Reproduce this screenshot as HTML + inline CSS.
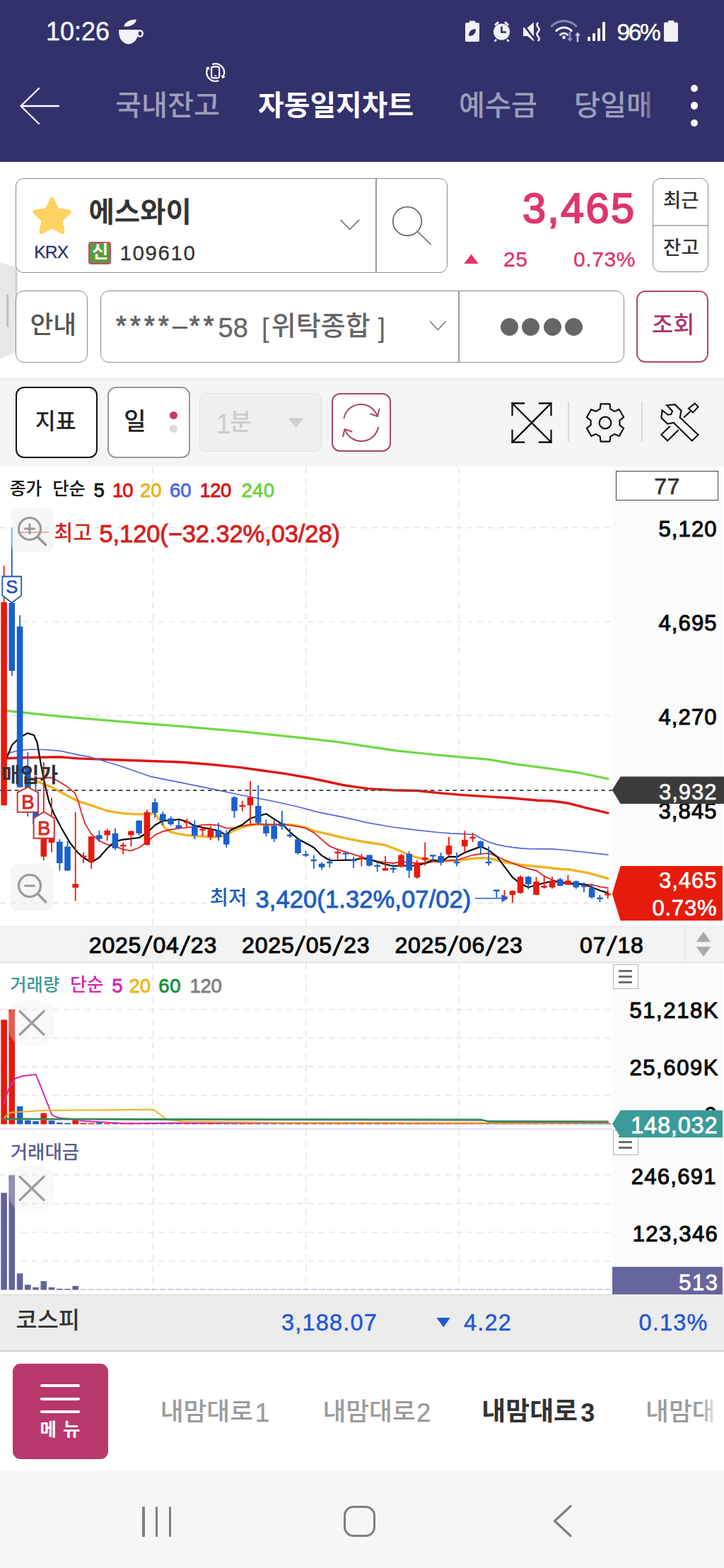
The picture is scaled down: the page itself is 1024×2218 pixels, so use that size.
<!DOCTYPE html>
<html lang="ko"><head><meta charset="utf-8"><title>자동일지차트</title><style>
*{margin:0;padding:0;box-sizing:border-box}
html,body{width:1024px;height:2218px;overflow:hidden;background:#fff}
body{font-family:"Liberation Sans",sans-serif;position:relative}
#app{position:relative;width:1024px;height:2218px;overflow:hidden;background:#fff}
.b,.s,.t{position:absolute}
.t{white-space:nowrap;display:block}
.k{font-family:"Liberation Sans","Noto Sans CJK KR",sans-serif;font-weight:500;margin-top:-.055em}
#ko{position:absolute;left:0;top:0;pointer-events:none}
</style></head><body><div id="app">
<div class="b" style="left:0px;top:0px;width:1024px;height:229px;background:#32316b;"></div>
<span class="t" style="left:65px;top:26.5px;font-size:36px;line-height:36px;color:#f4f4fa;-webkit-text-stroke:0.5px #f4f4fa;">10:26</span>
<svg class="s" style="left:55px;top:20px" width="160" height="50" viewBox="0 0 1024 320"><g fill="#f2f2f8"><path d="M724 140H900V160A88 112 0 0 1 812 272A88 112 0 0 1 724 160z"/><path d="M770 112C775 70 830 45 882 48C880 85 835 118 770 112z"/></g><ellipse cx="915" cy="175" rx="24" ry="27" fill="none" stroke="#f2f2f8" stroke-width="16"/></svg>
<svg class="s" style="left:654px;top:26px" width="310" height="36" viewBox="0 0 310 36">
<g fill="#f0f0f6">
<path d="M6 6h4V3.5h8V6h4a2 2 0 0 1 2 2v23a2 2 0 0 1-2 2H6a2 2 0 0 1-2-2V8a2 2 0 0 1 2-2z"/>
<path fill="#32316b" d="M9 25c0-6 3-10 10-10 0 6-3 10-10 10zM8.5 27.5l5-6" />
<circle cx="55.5" cy="19" r="11.5"/><circle cx="55.5" cy="19" r="8.3" fill="#f0f0f6"/>
<path d="M45 8.5l5-4.5 2 2.2-5 4.5zM66 8.500l-5-4.500-2 2.200 5 4.500zM47 29l2 1.800-2.500 2.800-2-1.800zM64 29l-2 1.800 2.500 2.800 2-1.800z"/>
<path fill="none" stroke="#32316b" stroke-width="2.6" stroke-linecap="round" d="M55.5 12.500v7h5.500"/>
<path d="M86 13h6l9-7.500v27L92 25h-6z"/><path stroke="#32316b" stroke-width="2.800" d="M85 7l19 25"/>
<path fill="none" stroke="#f0f0f6" stroke-width="2.600" d="M107 6q-3 3.200 0 6.500t0 6.500 0 6.500 0 6.500"/>
<rect x="177" y="26" width="4" height="6" rx="1"/><rect x="184" y="21" width="4" height="11" rx="1"/><rect x="191" y="14" width="4" height="18" rx="1"/><rect x="198" y="5" width="4" height="27" rx="1"/>
<path d="M287 5.500h4V3h8v2.500h4a2 2 0 0 1 2 2v23.500a2 2 0 0 1-2 2h-16a2 2 0 0 1-2-2V7.500a2 2 0 0 1 2-2z"/>
</g>
<g fill="none" stroke-linecap="round">
<path stroke="#8586ae" stroke-width="3.200" d="M126.400 10.800A24.400 24.400 0 0 1 160.800 10.800"/>
<path stroke="#f0f0f6" stroke-width="3.200" d="M133 17.400A15 15 0 0 1 154.200 17.400M138.600 23.100A7 7 0 0 1 148.600 23.100"/>
</g>
<circle cx="143.600" cy="27" r="2.400" fill="#f0f0f6"/>
<path fill="#8e8fb6" d="M150.800 19h2.600v9h2.600l-3.900 5.200-3.900-5.200h2.600z"/>
<path fill="#c9c9de" d="M161.700 33.500h2.600v-9h2.600l-3.900-5.200-3.900 5.200h2.600z"/>
</svg>
<span class="t" style="top:28.5px;font-size:33.5px;line-height:34px;color:#fff;left:872.5px;letter-spacing:-2.4px;-webkit-text-stroke:0.5px #fff;">96%</span>
<svg class="s" style="left:24px;top:118px" width="66" height="64" viewBox="0 0 66 64"><path fill="none" stroke="#fff" stroke-width="2.300" stroke-linecap="round" stroke-linejoin="round" d="M59 32H5.500M31 7L5.500 32 31 57"/></svg>
<svg class="s" style="left:289px;top:86px" width="32" height="34" viewBox="0 0 32 34"><g fill="none" stroke="#fff" stroke-width="2.200"><rect x="10.100" y="8.300" width="11.100" height="16.100" rx="2.600"/><path d="M11.100 5.100A12.300 12.300 0 0 1 26.850 21.700M20.300 27.900A12.300 12.300 0 0 1 4.550 11.300"/></g><path fill="#fff" d="M25.400 25.200L30 22.600 23.800 20.200zM6 7.800L1.500 10.200 7.600 12.900z"/><rect x="13.800" y="20.600" width="3.600" height="1.300" fill="#fff"/></svg>
<span class="t k" style="left:163px;top:133px;font-size:40.2px;line-height:37px;color:#9d9ebd;">국내잔고</span>
<span class="t k" style="left:365px;top:133px;font-size:39.9px;line-height:37px;color:#fff;font-weight:700;">자동일지차트</span>
<span class="t k" style="left:649px;top:133px;font-size:40.2px;line-height:37px;color:#9d9ebd;">예수금</span>
<span class="t k" style="left:812px;top:133px;font-size:40.2px;line-height:37px;color:#9d9ebd;">당일매</span>
<div class="b" style="left:976.8px;top:119.8px;width:10.4px;height:10.4px;background:#fff;border-radius:6px;"></div>
<div class="b" style="left:976.8px;top:144.3px;width:10.4px;height:10.4px;background:#fff;border-radius:6px;"></div>
<div class="b" style="left:976.8px;top:168.8px;width:10.4px;height:10.4px;background:#fff;border-radius:6px;"></div>
<svg class="s" style="left:0px;top:366px" width="26" height="146" viewBox="0 0 26 146"><path fill="#e8e8e8" d="M0 5.500L22.700 11.600H24.500V131L0 141.500z"/><path fill="#d2d2d2" d="M21.500 11.300L24.500 11.600V131L21.500 132.300z"/><rect x="9.300" y="50.600" width="2.900" height="46.200" rx="1" fill="#bdbdbd"/></svg>
<div class="b" style="left:22px;top:251.5px;width:611px;height:134.5px;background:#fff;border:1.9px solid #8a8a8a;border-radius:11px;"></div>
<div class="b" style="left:531px;top:252px;width:1.6px;height:133.5px;background:#9a9a9a;"></div>
<svg class="s" style="left:43.5px;top:275px" width="60" height="60" viewBox="0 0 60 60"><polygon points="29.5,7 36.8,22.4 53.8,24.6 41.4,36.4 44.5,53.1 29.5,45 14.5,53.1 17.6,36.4 5.2,24.6 22.2,22.4" fill="#ffd262" stroke="#ffd262" stroke-width="6" stroke-linejoin="round"/></svg>
<span class="t k" style="left:125.5px;top:284px;font-size:39.5px;line-height:36.7px;color:#333;font-weight:700;">에스와이</span>
<span class="t" style="top:343.8px;font-size:24.6px;line-height:25px;color:#2c2d70;left:48.3px;letter-spacing:-0.9px;-webkit-text-stroke:0.3px #2c2d70;">KRX</span>
<div class="b" style="left:124.5px;top:341.5px;width:32.5px;height:32.5px;background:#5b9b3c;border:2px solid #c8496d;border-radius:4px;"></div>
<span class="t k" style="left:130px;top:346.5px;font-size:25.3px;line-height:23px;color:#fff;font-weight:700;">신</span>
<span class="t" style="top:342.5px;font-size:29.5px;line-height:30px;color:#333;left:169.5px;letter-spacing:1.6px;-webkit-text-stroke:0.3px #333;">109610</span>
<svg class="s" style="left:478px;top:306px" width="34" height="24" viewBox="0 0 34 24"><path fill="none" stroke="#808080" stroke-width="1.800" stroke-linecap="round" stroke-linejoin="round" d="M4 5.500l12.800 12.800L29.600 5.500"/></svg>
<svg class="s" style="left:550px;top:288px" width="66" height="64" viewBox="0 0 66 64"><g fill="none" stroke="#686868" stroke-width="1.700" stroke-linecap="round"><circle cx="26" cy="25" r="20.300"/><path d="M41.500 40.500L59 57.500"/></g></svg>
<span class="t" style="top:264.5px;font-size:59.5px;line-height:60px;color:#e0346f;right:127px;letter-spacing:2.3px;margin-right:-2.3px;-webkit-text-stroke:1.9px #e0346f;">3,465</span>
<svg class="s" style="left:655px;top:358px" width="24" height="17" viewBox="0 0 24 17"><path fill="#e0346f" d="M11.500 1.500L21.600 15H1.400z"/></svg>
<span class="t" style="top:351.5px;font-size:30px;line-height:30px;color:#e0346f;left:712px;letter-spacing:0.5px;-webkit-text-stroke:0.4px #e0346f;">25</span>
<span class="t" style="top:351.5px;font-size:30px;line-height:30px;color:#e0346f;right:125.5px;letter-spacing:0.6px;margin-right:-0.6px;-webkit-text-stroke:0.4px #e0346f;">0.73%</span>
<div class="b" style="left:923px;top:251.5px;width:78.5px;height:133px;background:#fff;border:1.9px solid #8a8a8a;border-radius:11px;"></div>
<div class="b" style="left:924px;top:318.3px;width:76.5px;height:1.4px;background:#b5b5b5;"></div>
<span class="t k" style="left:938px;top:272.5px;font-size:27.5px;line-height:25.2px;color:#333;">최근</span>
<span class="t k" style="left:938px;top:341px;font-size:27.6px;line-height:24.7px;color:#333;">잔고</span>
<div class="b" style="left:22px;top:410.5px;width:102px;height:102px;background:#fff;border:1.9px solid #8a8a8a;border-radius:12px;"></div>
<span class="t k" style="left:42.5px;top:446.4px;font-size:35.7px;line-height:32.6px;color:#555;">안내</span>
<div class="b" style="left:141.5px;top:410.5px;width:741px;height:102px;background:#fff;border:1.9px solid #8a8a8a;border-radius:12px;"></div>
<div class="b" style="left:648px;top:411px;width:1.6px;height:101px;background:#9a9a9a;"></div>
<span class="t" style="top:442px;font-size:38px;line-height:38px;color:#666;left:164px;letter-spacing:5.2px;-webkit-text-stroke:1.1px #666;">****</span>
<div class="b" style="left:244px;top:462.3px;width:20.5px;height:2.7px;background:#666;"></div>
<span class="t" style="top:442px;font-size:38px;line-height:38px;color:#666;left:267.8px;letter-spacing:5.2px;-webkit-text-stroke:1.1px #666;">**</span>
<span class="t" style="top:444.5px;font-size:38px;line-height:38px;color:#666;left:308.5px;-webkit-text-stroke:0.4px #666;">58</span>
<span class="t" style="top:444.5px;font-size:38px;line-height:38px;color:#666;left:370px;">[</span>
<span class="t k" style="left:383.8px;top:446px;font-size:38px;line-height:35px;color:#666;">위탁종합</span>
<span class="t" style="top:444.5px;font-size:38px;line-height:38px;color:#666;left:534.5px;">]</span>
<svg class="s" style="left:604px;top:450px" width="32" height="22" viewBox="0 0 32 22"><path fill="none" stroke="#808080" stroke-width="1.800" stroke-linecap="round" stroke-linejoin="round" d="M4.500 5l10.700 11.500L26 5"/></svg>
<div class="b" style="left:708.2px;top:450.2px;width:24.8px;height:24.8px;background:#666;border-radius:13px;"></div>
<div class="b" style="left:738.2px;top:450.2px;width:24.8px;height:24.8px;background:#666;border-radius:13px;"></div>
<div class="b" style="left:769px;top:450.2px;width:24.8px;height:24.8px;background:#666;border-radius:13px;"></div>
<div class="b" style="left:799.3px;top:450.2px;width:24.8px;height:24.8px;background:#666;border-radius:13px;"></div>
<div class="b" style="left:900px;top:410.5px;width:102px;height:102px;background:#fff;border:2px solid #b4456e;border-radius:13px;"></div>
<span class="t k" style="left:922px;top:447px;font-size:32.8px;line-height:30px;color:#b03468;">조회</span>
<div class="b" style="left:0px;top:534.5px;width:1024px;height:125.5px;background:#f5f5f5;"></div>
<div class="b" style="left:0px;top:534.5px;width:1024px;height:1.5px;background:#e2e2e2;"></div>
<div class="b" style="left:22px;top:546.5px;width:116px;height:101.5px;background:#fff;border:2.2px solid #111;border-radius:12px;"></div>
<span class="t k" style="left:49.8px;top:584px;font-size:31.5px;line-height:29px;color:#222;">지표</span>
<div class="b" style="left:152px;top:546.5px;width:116.5px;height:101.5px;background:#fff;border:2.2px solid #999;border-radius:12px;"></div>
<span class="t k" style="left:175.3px;top:583px;font-size:34.1px;line-height:31px;color:#222;">일</span>
<div class="b" style="left:240.4px;top:582.1px;width:10.6px;height:10.6px;background:#c03a6e;border-radius:6px;"></div>
<div class="b" style="left:240.4px;top:601px;width:10.6px;height:10.6px;background:#dcdcdc;border-radius:6px;"></div>
<div class="b" style="left:281.5px;top:556px;width:173px;height:83px;background:#efefef;border:1.5px solid #e2e2e2;border-radius:9px;"></div>
<span class="t" style="top:581px;font-size:38px;line-height:38px;color:#cbcbcb;left:305.5px;">1</span>
<span class="t k" style="left:325px;top:584px;font-size:33.4px;line-height:29px;color:#cbcbcb;">분</span>
<svg class="s" style="left:405px;top:589px" width="28" height="18" viewBox="0 0 28 18"><path fill="#cfcfcf" d="M2.800 2.400h21.600L13.600 15.700z"/></svg>
<div class="b" style="left:468.5px;top:556px;width:84px;height:83px;background:#fff;border:2.2px solid #a8456c;border-radius:12px;"></div>
<svg class="s" style="left:478px;top:566px" width="66" height="64" viewBox="0 0 66 64"><g fill="none" stroke="#a8456c" stroke-width="2" stroke-linecap="round" stroke-linejoin="round">
<path d="M8.500 25.500A24.500 24.500 0 0 1 55.500 22"/><path d="M46 19.500l10 3.500 2.500-10.500"/>
<path d="M57 38.500A24.500 24.500 0 0 1 10 42"/><path d="M19.500 44.500l-10-3.500-2.500 10.500"/></g></svg>
<svg class="s" style="left:720px;top:566px" width="64" height="64" viewBox="0 0 64 64"><g fill="none" stroke="#111" stroke-width="2.300" stroke-linecap="square"><path d="M4.500 4.500L59.500 59.500M59.500 4.500L4.500 59.500"/><path d="M4.500 21V4.500H21M43 4.500h16.500V21M59.500 43v16.500H43M21 59.500H4.500V43"/></g></svg>
<div class="b" style="left:803px;top:568px;width:1.6px;height:56.5px;background:#d8d8d8;"></div>
<div class="b" style="left:907.3px;top:568px;width:1.6px;height:56.5px;background:#d8d8d8;"></div>
<svg class="s" style="left:824px;top:565.5px" width="64" height="64" viewBox="0 0 64 64"><g fill="none" stroke="#111" stroke-width="2.200" stroke-linejoin="round"><path d="M24.6 12.8L25.6 5.4L38.4 5.4L39.4 12.8A20.6 20.6 0 0 1 44.9 16L51.8 13.2L58.2 24.2L52.3 28.8A20.6 20.6 0 0 1 52.3 35.2L58.2 39.8L51.8 50.8L44.9 48A20.6 20.6 0 0 1 39.4 51.2L38.4 58.6L25.6 58.6L24.6 51.2A20.6 20.6 0 0 1 19.1 48L12.2 50.8L5.8 39.8L11.7 35.2A20.6 20.6 0 0 1 11.7 28.8L5.8 24.2L12.2 13.2L19.1 16A20.6 20.6 0 0 1 24.6 12.8z"/><circle cx="32" cy="32" r="8.300"/></g></svg>
<svg class="s" style="left:930px;top:566px" width="64" height="64" viewBox="0 0 64 64"><g fill="none" stroke="#111" stroke-width="2.100" stroke-linejoin="miter" stroke-linecap="butt">
<path d="M13.100 7.300L24.700 6.200L33.600 15.200L31.600 24.400L57.500 49L48.700 57.600L22.700 31.900L14.100 33.600L5.300 25.100L6.600 14.200L14.500 20.700L19.300 20L21 15.500z"/>
<path d="M17.900 36.700L5.300 48.700L14.100 57.600L29.500 42.200"/>
<path d="M37.400 24.400L46.300 15.900"/>
<path d="M43.900 11.800L52.800 4.600L57.500 9.400L50 17.600z"/></g></svg>
<div class="b" style="left:866px;top:660px;width:156px;height:650px;background:#fbfbfb;"></div>
<svg class="s" style="left:0px;top:660px" width="870" height="650" viewBox="0 0 870 650" id="chart"><path d="M0 86.5H866" stroke="#e2e2e2" stroke-width="1.300" stroke-dasharray="8 7" fill="none"/><path d="M0 219.3H866" stroke="#e2e2e2" stroke-width="1.300" stroke-dasharray="8 7" fill="none"/><path d="M0 352H866" stroke="#e2e2e2" stroke-width="1.300" stroke-dasharray="8 7" fill="none"/><path d="M0 484.8H866" stroke="#e2e2e2" stroke-width="1.300" stroke-dasharray="8 7" fill="none"/><path d="M0 617.5H866" stroke="#e2e2e2" stroke-width="1.300" stroke-dasharray="8 7" fill="none"/><path d="M216.3 0V650" stroke="#e2e2e2" stroke-width="1.300" stroke-dasharray="9 7" fill="none"/><path d="M432.6 0V650" stroke="#e2e2e2" stroke-width="1.300" stroke-dasharray="9 7" fill="none"/><path d="M649 0V650" stroke="#e2e2e2" stroke-width="1.300" stroke-dasharray="9 7" fill="none"/><polyline points="4.2,344.9 85,353.4 170,360.6 255,367.4 340,374.6 435,384.6 477.5,389.5 520,395.8 562.4,402.2 605,406.5 647.4,410.7 690,414.1 732.4,421.3 775,426.9 817.3,432.8 860,441.7" fill="none" stroke="#6fd845" stroke-width="3.2" stroke-linejoin="round" stroke-linecap="round"/><polyline points="8.5,412.8 40,411.5 85,410.7 110,412.9 170,415 255,418 297,421.3 340,425.6 371.4,430 403,434.4 438.2,440.5 460,445 485.2,450.5 520.3,455.6 555.5,457.8 590.6,458.5 620,461.6 655.2,464.6 690.3,466.9 725.5,469 760.6,472.2 780,473 802.9,476 832.7,483.6 860,490.1" fill="none" stroke="#e01414" stroke-width="3.4" stroke-linejoin="round" stroke-linecap="round"/><polyline points="10.6,405.6 25,402 42.5,400 64,400.5 85,402.2 110,407.6 127.4,410.7 170,423.5 212.4,438.3 255,446.8 297,455.3 340,464.5 382,472.5 420.6,481 450,488.9 485.2,495.9 520.3,503.8 555.5,510 590.6,514.4 620,517.5 637.6,518.8 655.2,519.6 671,520.5 680,525.8 691.2,531 702.5,534.6 713.7,536.9 725,538.6 736.2,539.9 747.4,540.7 780,540.9 800,542.5 860,549.2" fill="none" stroke="#5566d8" stroke-width="1.7" stroke-linejoin="round" stroke-linecap="round"/><polyline points="40,440 54.3,446.2 72.7,453.3 90.3,463 110,473.2 129,479.2 151.7,487 174,490.6 196.7,491.9 208,491.5 219,490.6 226,500.3 233,510.9 241.6,517 253,519.6 264,521.4 275.4,522.6 286.6,523 297.8,524 309,523.7 320.3,521.4 331.6,514.4 342.8,510 354,507.3 365.3,506.5 376.5,506.5 387.8,506.5 399,506.1 410.2,506.5 421.5,508.2 432.7,510.9 444,515.3 455.2,517.9 466.4,520.5 489,525.8 511.4,530.2 533.9,533.7 545.1,535.5 556.4,539.9 567.6,544.3 578.8,549.5 590.1,553 601.3,555.7 612.6,556.6 623.8,557.4 635,557.4 646.3,557 657.5,555.7 668.8,554.4 680,553.6 691.2,554 702.5,556.6 713.7,559.7 725,561.5 736.2,563.2 747.4,564.5 758.7,565.7 769.9,566.8 781.2,568 792.4,569.2 802.9,569.7 832.7,575 860,582.6" fill="none" stroke="#eeb420" stroke-width="3.4" stroke-linejoin="round" stroke-linecap="round"/><polyline points="39,441 50,441.5 62,440.5 72.7,440 81.5,444.5 94.7,452.4 106.1,462 110,471.3 115.3,489.8 120.5,505.6 129,519.6 140.4,529.3 151.7,534.6 163,537.2 174,541.6 185.4,543.4 196.7,539 208,531 219,521.4 230.4,516 241.6,513.5 253,511.7 264,510.9 275.4,509 286.6,506.8 297.8,506.5 309,507.3 320.3,511.7 331.6,511.2 342.8,508.2 354,506.5 365.3,505.2 376.5,506.5 387.8,506.5 399,506.1 410.2,507.3 421.5,509.1 432.7,511.7 444,517.9 455.2,527.6 466.4,537.2 477.7,541.6 489,545.1 500.2,548.7 511.4,552.2 522.6,555.7 533.9,558.3 545.1,560 556.4,561 567.6,559.2 578.8,560 590.1,561 601.3,561 612.6,559.2 623.8,558.3 635,557.4 646.3,556.6 657.5,553 668.8,549.5 680,547.8 691.2,546.9 702.5,551.3 713.7,556.6 725,561 736.2,565.4 747.4,568.9 758.7,571.5 769.9,579.4 781.2,584.7 792.4,588.2 802.9,590.8 826,590.8 837.4,591.7 848.6,594.4 860,596.1" fill="none" stroke="#e02424" stroke-width="1.8" stroke-linejoin="round" stroke-linecap="round"/><polyline points="8,415.8 16.9,394 28,383 39.2,377 48,380 52.5,390 57.8,420.8 63.9,451.5 69.2,473.5 76.2,491 86.8,511.3 99.1,532.4 110,546 118,553 129,559.7 140.4,553 151.7,540 163,530 174,527.6 185.4,526.3 196.7,525 208,518 219,507.3 230.4,501 241.6,500.3 253,499 264,502 275.4,508.2 286.6,510.5 297.8,512.6 309,515.3 320.3,521.4 325.7,514.4 331.6,511.7 342.8,506.5 354,497.7 365.3,494.2 376.5,491.2 387.8,498.6 399,505.6 410.2,517 421.5,526.7 432.7,532.8 444,539 455.2,550.4 466.4,557 477.7,557 489,556.6 500.2,556.6 511.4,554 522.6,555.7 533.9,559.2 545.1,562.7 556.4,565 567.6,564.5 578.8,564.5 590.1,564.5 601.3,561 612.6,556.6 623.8,559 635,551.6 646.3,552.2 657.5,546 668.8,541.6 680,537.6 691.2,542.5 702.5,551.3 713.7,566.2 725,581.2 736.2,590 747.4,595.2 758.7,591.7 769.9,589 781.2,586.4 792.4,588.2 803.6,589 814.9,590 826.1,590.8 837.4,595.2 848.6,599.6 860,603.1" fill="none" stroke="#0a0a0a" stroke-width="2.2" stroke-linejoin="round" stroke-linecap="round"/><path d="M5.6 140.5V479.3" stroke="#e8190c" stroke-width="1.800"/><rect x="1.3" y="191.9" width="8.6" height="287.4" fill="#e8190c"/><path d="M16.8 86.5V296" stroke="#1a5fd0" stroke-width="1.800"/><rect x="12.5" y="193" width="8.6" height="96" fill="#1a5fd0"/><path d="M28.1 210.3V453.7" stroke="#1a5fd0" stroke-width="1.800"/><rect x="23.8" y="226.2" width="8.6" height="227.5" fill="#1a5fd0"/><path d="M39.3 404V495" stroke="#1a5fd0" stroke-width="1.800"/><rect x="35" y="425" width="8.6" height="51" fill="#1a5fd0"/><path d="M50.5 440V510" stroke="#1a5fd0" stroke-width="1.800"/><rect x="46.2" y="460" width="8.6" height="46" fill="#1a5fd0"/><path d="M61.8 418V557" stroke="#e8190c" stroke-width="1.800"/><rect x="57.5" y="520" width="8.6" height="31.7" fill="#e8190c"/><path d="M73 468.2V545.6" stroke="#e8190c" stroke-width="1.800"/><rect x="68.7" y="525" width="8.6" height="7" fill="#e8190c"/><path d="M84.3 527V571.5" stroke="#1a5fd0" stroke-width="1.800"/><rect x="80" y="530.6" width="8.6" height="30.4" fill="#1a5fd0"/><path d="M95.5 529.5V571.5" stroke="#1a5fd0" stroke-width="1.800"/><rect x="91.2" y="537.6" width="8.6" height="33.9" fill="#1a5fd0"/><path d="M106.7 488.8V614.6" stroke="#e8190c" stroke-width="1.800"/><rect x="102.4" y="590.3" width="8.6" height="5.4" fill="#e8190c"/><path d="M118 546V561" stroke="#e8190c" stroke-width="1.800"/><rect x="113.7" y="550.4" width="8.6" height="2.4" fill="#e8190c"/><path d="M129.2 523.2V568.9" stroke="#e8190c" stroke-width="1.800"/><rect x="124.9" y="523.2" width="8.6" height="36.5" fill="#e8190c"/><path d="M140.4 514.9V531" stroke="#1a5fd0" stroke-width="1.800"/><rect x="136.1" y="521.4" width="8.6" height="5.3" fill="#1a5fd0"/><path d="M151.7 512.6V529.3" stroke="#e8190c" stroke-width="1.800"/><rect x="147.4" y="514.9" width="8.6" height="6.5" fill="#e8190c"/><path d="M162.9 511.7V542.5" stroke="#1a5fd0" stroke-width="1.800"/><rect x="158.6" y="518.8" width="8.6" height="21.1" fill="#1a5fd0"/><path d="M174.2 532V548.7" stroke="#e8190c" stroke-width="1.800"/><rect x="169.9" y="535.1" width="8.6" height="2.4" fill="#e8190c"/><path d="M185.4 514.9V537.6" stroke="#e8190c" stroke-width="1.800"/><rect x="181.1" y="515.6" width="8.6" height="5.8" fill="#e8190c"/><path d="M196.6 500.3V521.8" stroke="#1a5fd0" stroke-width="1.800"/><rect x="192.3" y="500.8" width="8.6" height="18" fill="#1a5fd0"/><path d="M207.9 485.4V536.3" stroke="#e8190c" stroke-width="1.800"/><rect x="203.6" y="488.9" width="8.6" height="46.2" fill="#e8190c"/><path d="M219.1 469.6V496.8" stroke="#1a5fd0" stroke-width="1.800"/><rect x="214.8" y="474.8" width="8.6" height="15" fill="#1a5fd0"/><path d="M230.3 488V507.3" stroke="#1a5fd0" stroke-width="1.800"/><rect x="226" y="491.5" width="8.6" height="8.8" fill="#1a5fd0"/><path d="M241.6 494.7V508.2" stroke="#1a5fd0" stroke-width="1.800"/><rect x="237.3" y="497.7" width="8.6" height="8.2" fill="#1a5fd0"/><path d="M252.8 500.3V512.3" stroke="#1a5fd0" stroke-width="1.800"/><rect x="248.5" y="507.3" width="8.6" height="3.9" fill="#1a5fd0"/><path d="M264.1 497.7V510" stroke="#e8190c" stroke-width="1.800"/><rect x="259.8" y="501.8" width="8.6" height="2.4" fill="#e8190c"/><path d="M275.3 500.3V527" stroke="#1a5fd0" stroke-width="1.800"/><rect x="271" y="508.6" width="8.6" height="13.2" fill="#1a5fd0"/><path d="M286.5 510.5V522.3" stroke="#e8190c" stroke-width="1.800"/><rect x="282.2" y="512.3" width="8.6" height="2.4" fill="#e8190c"/><path d="M297.8 509V528.4" stroke="#e8190c" stroke-width="1.800"/><rect x="293.5" y="513.5" width="8.6" height="10.5" fill="#e8190c"/><path d="M309 503.8V529.3" stroke="#1a5fd0" stroke-width="1.800"/><rect x="304.7" y="514.4" width="8.6" height="9.6" fill="#1a5fd0"/><path d="M320.2 514.4V539" stroke="#1a5fd0" stroke-width="1.800"/><rect x="315.9" y="519.6" width="8.6" height="15" fill="#1a5fd0"/><path d="M331.5 466V496.8" stroke="#1a5fd0" stroke-width="1.800"/><rect x="327.2" y="467.8" width="8.6" height="19.3" fill="#1a5fd0"/><path d="M342.7 473V487.7" stroke="#e8190c" stroke-width="1.800"/><rect x="338.4" y="478.8" width="8.6" height="2.4" fill="#e8190c"/><path d="M353.9 445V507.3" stroke="#e8190c" stroke-width="1.800"/><rect x="349.6" y="467.8" width="8.6" height="11.4" fill="#e8190c"/><path d="M365.2 451V506.5" stroke="#1a5fd0" stroke-width="1.800"/><rect x="360.9" y="480" width="8.6" height="23.8" fill="#1a5fd0"/><path d="M376.4 499.4V523.2" stroke="#1a5fd0" stroke-width="1.800"/><rect x="372.1" y="508.2" width="8.6" height="10.6" fill="#1a5fd0"/><path d="M387.7 500.3V531" stroke="#1a5fd0" stroke-width="1.800"/><rect x="383.4" y="508.2" width="8.6" height="18.5" fill="#1a5fd0"/><path d="M398.9 487V513.5" stroke="#1a5fd0" stroke-width="1.800"/><rect x="394.6" y="504.7" width="8.6" height="4.3" fill="#1a5fd0"/><path d="M410.1 511.7V525" stroke="#1a5fd0" stroke-width="1.800"/><rect x="405.8" y="520.6" width="8.6" height="2.4" fill="#1a5fd0"/><path d="M421.4 526.7V548.7" stroke="#1a5fd0" stroke-width="1.800"/><rect x="417.1" y="527.2" width="8.6" height="19.7" fill="#1a5fd0"/><path d="M432.6 543.4V552.2" stroke="#1a5fd0" stroke-width="1.800"/><rect x="428.3" y="548" width="8.6" height="2.4" fill="#1a5fd0"/><path d="M443.8 549.5V568.9" stroke="#1a5fd0" stroke-width="1.800"/><rect x="439.5" y="555.8" width="8.6" height="2.4" fill="#1a5fd0"/><path d="M455.1 559.2V570.6" stroke="#1a5fd0" stroke-width="1.800"/><rect x="450.8" y="561.8" width="8.6" height="5" fill="#1a5fd0"/><path d="M466.3 553V567.1" stroke="#1a5fd0" stroke-width="1.800"/><rect x="462" y="558.8" width="8.6" height="2.4" fill="#1a5fd0"/><path d="M477.6 540.7V555.7" stroke="#e8190c" stroke-width="1.800"/><rect x="473.3" y="544.8" width="8.6" height="2.4" fill="#e8190c"/><path d="M488.8 547V555.7" stroke="#1a5fd0" stroke-width="1.800"/><rect x="484.5" y="546.2" width="8.6" height="2.4" fill="#1a5fd0"/><path d="M500 552.2V568" stroke="#1a5fd0" stroke-width="1.800"/><rect x="495.7" y="555.8" width="8.6" height="2.4" fill="#1a5fd0"/><path d="M511.3 547.8V565.4" stroke="#e8190c" stroke-width="1.800"/><rect x="507" y="552.8" width="8.6" height="2.4" fill="#e8190c"/><path d="M522.5 549V565.8" stroke="#1a5fd0" stroke-width="1.800"/><rect x="518.2" y="549.5" width="8.6" height="15" fill="#1a5fd0"/><path d="M533.7 559.2V573.3" stroke="#1a5fd0" stroke-width="1.800"/><rect x="529.4" y="563.8" width="8.6" height="2.4" fill="#1a5fd0"/><path d="M545 551V571.5" stroke="#e8190c" stroke-width="1.800"/><rect x="540.7" y="568" width="8.6" height="3.5" fill="#e8190c"/><path d="M556.2 562.7V575" stroke="#1a5fd0" stroke-width="1.800"/><rect x="551.9" y="567.7" width="8.6" height="2.4" fill="#1a5fd0"/><path d="M567.5 547.8V567.2" stroke="#e8190c" stroke-width="1.800"/><rect x="563.2" y="549.5" width="8.6" height="16.7" fill="#e8190c"/><path d="M578.7 544.3V582" stroke="#1a5fd0" stroke-width="1.800"/><rect x="574.4" y="547.8" width="8.6" height="23.7" fill="#1a5fd0"/><path d="M589.9 556.6V583" stroke="#e8190c" stroke-width="1.800"/><rect x="585.6" y="561" width="8.6" height="20.2" fill="#e8190c"/><path d="M601.2 531.6V564.5" stroke="#e8190c" stroke-width="1.800"/><rect x="596.9" y="553" width="8.6" height="3.2" fill="#e8190c"/><path d="M612.4 549.6V558" stroke="#1a5fd0" stroke-width="1.800"/><rect x="608.1" y="549.2" width="8.6" height="2.4" fill="#1a5fd0"/><path d="M623.6 546V564" stroke="#1a5fd0" stroke-width="1.800"/><rect x="619.3" y="551" width="8.6" height="9.4" fill="#1a5fd0"/><path d="M634.9 524V551.3" stroke="#e8190c" stroke-width="1.800"/><rect x="630.6" y="536.3" width="8.6" height="12.4" fill="#e8190c"/><path d="M646.1 546V565.4" stroke="#1a5fd0" stroke-width="1.800"/><rect x="641.8" y="558.8" width="8.6" height="2.4" fill="#1a5fd0"/><path d="M657.3 515.3V545.1" stroke="#e8190c" stroke-width="1.800"/><rect x="653" y="528" width="8.6" height="9.2" fill="#e8190c"/><path d="M668.6 517.9V531" stroke="#e8190c" stroke-width="1.800"/><rect x="664.3" y="523.8" width="8.6" height="2.4" fill="#e8190c"/><path d="M679.8 529.3V549.5" stroke="#1a5fd0" stroke-width="1.800"/><rect x="675.5" y="530.2" width="8.6" height="7.4" fill="#1a5fd0"/><path d="M691.1 537.2V564.5" stroke="#1a5fd0" stroke-width="1.800"/><rect x="686.8" y="558.8" width="8.6" height="2.4" fill="#1a5fd0"/><path d="M702.3 598.8V611" stroke="#1a5fd0" stroke-width="1.800"/><rect x="698" y="598.4" width="8.6" height="2.4" fill="#1a5fd0"/><path d="M713.5 598.7V611" stroke="#e8190c" stroke-width="1.800"/><rect x="709.2" y="608.1" width="8.6" height="2.4" fill="#e8190c"/><path d="M724.8 599.5V617.2" stroke="#e8190c" stroke-width="1.800"/><rect x="720.5" y="600.2" width="8.6" height="5.6" fill="#e8190c"/><path d="M736 578.5V604" stroke="#e8190c" stroke-width="1.800"/><rect x="731.7" y="580.3" width="8.6" height="22.8" fill="#e8190c"/><path d="M747.2 579V597.9" stroke="#1a5fd0" stroke-width="1.800"/><rect x="742.9" y="580.3" width="8.6" height="10.5" fill="#1a5fd0"/><path d="M758.5 580.3V605.8" stroke="#e8190c" stroke-width="1.800"/><rect x="754.2" y="587" width="8.6" height="18.8" fill="#e8190c"/><path d="M769.7 579.4V597" stroke="#e8190c" stroke-width="1.800"/><rect x="765.4" y="593" width="8.6" height="2.6" fill="#e8190c"/><path d="M781 580.3V597" stroke="#e8190c" stroke-width="1.800"/><rect x="776.7" y="585.6" width="8.6" height="9.6" fill="#e8190c"/><path d="M792.2 582V593.5" stroke="#1a5fd0" stroke-width="1.800"/><rect x="787.9" y="583.8" width="8.6" height="9.3" fill="#1a5fd0"/><path d="M803.4 577.7V591.4" stroke="#e8190c" stroke-width="1.800"/><rect x="799.1" y="585.6" width="8.6" height="5.8" fill="#e8190c"/><path d="M814.7 585.6V597" stroke="#1a5fd0" stroke-width="1.800"/><rect x="810.4" y="586.4" width="8.6" height="8.8" fill="#1a5fd0"/><path d="M825.9 588.2V601.9" stroke="#1a5fd0" stroke-width="1.800"/><rect x="821.6" y="592.3" width="8.6" height="2.4" fill="#1a5fd0"/><path d="M837.1 590V611" stroke="#1a5fd0" stroke-width="1.800"/><rect x="832.8" y="596.1" width="8.6" height="13.2" fill="#1a5fd0"/><path d="M848.4 605.8V616" stroke="#1a5fd0" stroke-width="1.800"/><rect x="844.1" y="609.5" width="8.6" height="2.4" fill="#1a5fd0"/><path d="M859.6 597.9V611" stroke="#e8190c" stroke-width="1.800"/><rect x="855.3" y="604" width="8.6" height="2.5" fill="#e8190c"/><path d="M0 458H866" stroke="#505050" stroke-width="2" stroke-dasharray="5.500 5" fill="none"/><path d="M25 93H69" stroke="#e03030" stroke-width="1.500"/><path d="M672 610.7H711" stroke="#2a62c8" stroke-width="1.500"/><path d="M709.500 605L718.600 610.7L709.500 616.4z" fill="#2a5cc4"/><path d="M3.300 155.5H30.200V182.4L16.700 192.5L3.300 182.4z" fill="#fff" stroke="#2457b4" stroke-width="1.800" stroke-linejoin="miter"/><path d="M39.3 453.3L53.9 461V488.8H24.7V461z" fill="#fff" stroke="#d23232" stroke-width="2" stroke-linejoin="miter"/><path d="M62.2 488.3L76.8 497.3V525.8H47.6V497.3z" fill="#fff" stroke="#d23232" stroke-width="2" stroke-linejoin="miter"/></svg>
<span class="t" style="top:816.5px;font-size:25.5px;line-height:26px;color:#2050ae;left:-283.2px;width:600px;text-align:center;-webkit-text-stroke:0.6px #2050ae;">S</span>
<span class="t" style="top:1120.8px;font-size:27.5px;line-height:28px;color:#d42a2a;left:-260.7px;width:600px;text-align:center;-webkit-text-stroke:0.9px #d42a2a;">B</span>
<span class="t" style="top:1158px;font-size:27.5px;line-height:28px;color:#d42a2a;left:-237.8px;width:600px;text-align:center;-webkit-text-stroke:0.9px #d42a2a;">B</span>
<span class="t k" style="left:13.7px;top:681.5px;font-size:24.8px;line-height:23px;color:#111;">종가</span>
<span class="t k" style="left:74.2px;top:681.5px;font-size:25.3px;line-height:23px;color:#111;">단순</span>
<span class="t" style="top:680px;font-size:27.5px;line-height:28px;color:#111;left:132.5px;-webkit-text-stroke:0.8px #111;">5</span>
<span class="t" style="top:680px;font-size:27.5px;line-height:28px;color:#e01212;left:159px;letter-spacing:-1px;-webkit-text-stroke:0.8px #e01212;">10</span>
<span class="t" style="top:680px;font-size:27.5px;line-height:28px;color:#e9b21e;left:198px;-webkit-text-stroke:0.8px #e9b21e;">20</span>
<span class="t" style="top:680px;font-size:27.5px;line-height:28px;color:#4a6ae2;left:240px;-webkit-text-stroke:0.8px #4a6ae2;">60</span>
<span class="t" style="top:680px;font-size:27.5px;line-height:28px;color:#d41212;left:282.5px;letter-spacing:-0.5px;-webkit-text-stroke:0.8px #d41212;">120</span>
<span class="t" style="top:680px;font-size:27.5px;line-height:28px;color:#6cd242;left:341.5px;letter-spacing:0.3px;-webkit-text-stroke:0.8px #6cd242;">240</span>
<div class="b" style="left:15.5px;top:718.5px;width:60.5px;height:62.5px;background:rgba(238,238,238,0.5);border-radius:10px;"></div>
<svg class="s" style="left:12px;top:718px" width="60" height="60" viewBox="0 0 60 60"><g fill="none" stroke="#9a9a9a" stroke-linecap="round"><circle cx="30" cy="30" r="15.500" stroke-width="3.200"/><path d="M41.500 41.500L52.500 52.500" stroke-width="3.600"/><path d="M23.500 30H36.500M30 23.500V36.500" stroke-width="3"/></g></svg>
<div class="b" style="left:13.5px;top:1223px;width:62.5px;height:65px;background:rgba(238,238,238,0.5);border-radius:10px;"></div>
<svg class="s" style="left:12px;top:1223px" width="60" height="60" viewBox="0 0 60 60"><g fill="none" stroke="#9a9a9a" stroke-linecap="round"><circle cx="30" cy="30" r="15.500" stroke-width="3.200"/><path d="M41.500 41.500L52.500 52.500" stroke-width="3.600"/><path d="M23.500 30H36.500" stroke-width="3"/></g></svg>
<span class="t k" style="left:76.3px;top:741.8px;font-size:29.3px;line-height:27.2px;color:#d61f1f;">최고</span>
<span class="t" style="top:738.3px;font-size:34.5px;line-height:35px;color:#d61f1f;left:140.5px;letter-spacing:-0.1px;-webkit-text-stroke:0.9px #d61f1f;">5,120(−32.32%,03/28)</span>
<span class="t k" style="left:296.8px;top:1258.9px;font-size:28.5px;line-height:26.5px;color:#1d5ec2;">최저</span>
<span class="t" style="top:1254.5px;font-size:34.5px;line-height:35px;color:#1d5ec2;left:361.5px;letter-spacing:0.1px;-webkit-text-stroke:0.9px #1d5ec2;">3,420(1.32%,07/02)</span>
<span class="t k" style="left:2px;top:1086px;font-size:29.1px;line-height:27px;color:#333;font-weight:700;">매입가</span>
<div class="b" style="left:871px;top:665.5px;width:145px;height:42.5px;background:#fff;border:1.6px solid #444;"></div>
<span class="t" style="top:672.3px;font-size:32px;line-height:32px;color:#333;left:643.5px;width:600px;text-align:center;letter-spacing:0.5px;-webkit-text-stroke:0.7px #333;">77</span>
<span class="t" style="top:733.2px;font-size:31px;line-height:31px;color:#0c0c0c;right:10.5px;letter-spacing:1.1px;margin-right:-1.1px;-webkit-text-stroke:1.1px #0c0c0c;">5,120</span>
<span class="t" style="top:866px;font-size:31px;line-height:31px;color:#0c0c0c;right:10.5px;letter-spacing:1.1px;margin-right:-1.1px;-webkit-text-stroke:1.1px #0c0c0c;">4,695</span>
<span class="t" style="top:998.7px;font-size:31px;line-height:31px;color:#0c0c0c;right:10.5px;letter-spacing:1.1px;margin-right:-1.1px;-webkit-text-stroke:1.1px #0c0c0c;">4,270</span>
<span class="t" style="top:1131.5px;font-size:31px;line-height:31px;color:#0c0c0c;right:10.5px;letter-spacing:1.1px;margin-right:-1.1px;-webkit-text-stroke:1.1px #0c0c0c;">3,845</span>
<svg class="s" style="left:860px;top:1095px" width="166" height="46" viewBox="0 0 166 46"><path d="M5.800 22.600L17.600 3.400H164V42H17.600z" fill="#3b3b3b"/></svg>
<span class="t" style="top:1104.5px;font-size:31px;line-height:31px;color:#fff;right:10.5px;letter-spacing:1px;margin-right:-1px;-webkit-text-stroke:0.7px #fff;">3,932</span>
<svg class="s" style="left:860px;top:1222px" width="166" height="84" viewBox="0 0 166 84"><path d="M5.800 42.500L17.600 3H162V80.200H17.600z" fill="#e71b0c"/></svg>
<span class="t" style="top:1229.5px;font-size:31px;line-height:31px;color:#fff;right:10.5px;letter-spacing:1px;margin-right:-1px;-webkit-text-stroke:0.7px #fff;">3,465</span>
<span class="t" style="top:1269px;font-size:31px;line-height:31px;color:#fff;right:10.5px;letter-spacing:0.8px;margin-right:-0.8px;-webkit-text-stroke:0.7px #fff;">0.73%</span>
<div class="b" style="left:0px;top:1310px;width:1024px;height:52.5px;background:#f3f3f3;"></div>
<div class="b" style="left:0px;top:1310px;width:1024px;height:1.2px;background:#e3e3e3;"></div>
<div class="b" style="left:0px;top:1361.3px;width:1024px;height:1.2px;background:#dedede;"></div>
<span class="t" style="top:1321.3px;font-size:32px;line-height:32px;color:#0a0a0a;left:-165.3px;width:600px;text-align:center;-webkit-text-stroke:1.1px #0a0a0a;">2</span>
<span class="t" style="top:1321.3px;font-size:32px;line-height:32px;color:#0a0a0a;left:-146.7px;width:600px;text-align:center;-webkit-text-stroke:1.1px #0a0a0a;">0</span>
<span class="t" style="top:1321.3px;font-size:32px;line-height:32px;color:#0a0a0a;left:-128.1px;width:600px;text-align:center;-webkit-text-stroke:1.1px #0a0a0a;">2</span>
<span class="t" style="top:1321.3px;font-size:32px;line-height:32px;color:#0a0a0a;left:-109.5px;width:600px;text-align:center;-webkit-text-stroke:1.1px #0a0a0a;">5</span>
<span class="t" style="top:1321.3px;font-size:32px;line-height:32px;color:#0a0a0a;left:-74.7px;width:600px;text-align:center;-webkit-text-stroke:1.1px #0a0a0a;">0</span>
<span class="t" style="top:1321.3px;font-size:32px;line-height:32px;color:#0a0a0a;left:-56.1px;width:600px;text-align:center;-webkit-text-stroke:1.1px #0a0a0a;">4</span>
<span class="t" style="top:1321.3px;font-size:32px;line-height:32px;color:#0a0a0a;left:-21.3px;width:600px;text-align:center;-webkit-text-stroke:1.1px #0a0a0a;">2</span>
<span class="t" style="top:1321.3px;font-size:32px;line-height:32px;color:#0a0a0a;left:-2.7px;width:600px;text-align:center;-webkit-text-stroke:1.1px #0a0a0a;">3</span>
<span class="t" style="top:1321.3px;font-size:32px;line-height:32px;color:#0a0a0a;left:51px;width:600px;text-align:center;-webkit-text-stroke:1.1px #0a0a0a;">2</span>
<span class="t" style="top:1321.3px;font-size:32px;line-height:32px;color:#0a0a0a;left:69.6px;width:600px;text-align:center;-webkit-text-stroke:1.1px #0a0a0a;">0</span>
<span class="t" style="top:1321.3px;font-size:32px;line-height:32px;color:#0a0a0a;left:88.2px;width:600px;text-align:center;-webkit-text-stroke:1.1px #0a0a0a;">2</span>
<span class="t" style="top:1321.3px;font-size:32px;line-height:32px;color:#0a0a0a;left:106.8px;width:600px;text-align:center;-webkit-text-stroke:1.1px #0a0a0a;">5</span>
<span class="t" style="top:1321.3px;font-size:32px;line-height:32px;color:#0a0a0a;left:141.6px;width:600px;text-align:center;-webkit-text-stroke:1.1px #0a0a0a;">0</span>
<span class="t" style="top:1321.3px;font-size:32px;line-height:32px;color:#0a0a0a;left:160.2px;width:600px;text-align:center;-webkit-text-stroke:1.1px #0a0a0a;">5</span>
<span class="t" style="top:1321.3px;font-size:32px;line-height:32px;color:#0a0a0a;left:195px;width:600px;text-align:center;-webkit-text-stroke:1.1px #0a0a0a;">2</span>
<span class="t" style="top:1321.3px;font-size:32px;line-height:32px;color:#0a0a0a;left:213.6px;width:600px;text-align:center;-webkit-text-stroke:1.1px #0a0a0a;">3</span>
<span class="t" style="top:1321.3px;font-size:32px;line-height:32px;color:#0a0a0a;left:267.3px;width:600px;text-align:center;-webkit-text-stroke:1.1px #0a0a0a;">2</span>
<span class="t" style="top:1321.3px;font-size:32px;line-height:32px;color:#0a0a0a;left:285.9px;width:600px;text-align:center;-webkit-text-stroke:1.1px #0a0a0a;">0</span>
<span class="t" style="top:1321.3px;font-size:32px;line-height:32px;color:#0a0a0a;left:304.5px;width:600px;text-align:center;-webkit-text-stroke:1.1px #0a0a0a;">2</span>
<span class="t" style="top:1321.3px;font-size:32px;line-height:32px;color:#0a0a0a;left:323.1px;width:600px;text-align:center;-webkit-text-stroke:1.1px #0a0a0a;">5</span>
<span class="t" style="top:1321.3px;font-size:32px;line-height:32px;color:#0a0a0a;left:357.9px;width:600px;text-align:center;-webkit-text-stroke:1.1px #0a0a0a;">0</span>
<span class="t" style="top:1321.3px;font-size:32px;line-height:32px;color:#0a0a0a;left:376.5px;width:600px;text-align:center;-webkit-text-stroke:1.1px #0a0a0a;">6</span>
<span class="t" style="top:1321.3px;font-size:32px;line-height:32px;color:#0a0a0a;left:411.3px;width:600px;text-align:center;-webkit-text-stroke:1.1px #0a0a0a;">2</span>
<span class="t" style="top:1321.3px;font-size:32px;line-height:32px;color:#0a0a0a;left:429.9px;width:600px;text-align:center;-webkit-text-stroke:1.1px #0a0a0a;">3</span>
<span class="t" style="top:1321.3px;font-size:32px;line-height:32px;color:#0a0a0a;left:529px;width:600px;text-align:center;-webkit-text-stroke:1.1px #0a0a0a;">0</span>
<span class="t" style="top:1321.3px;font-size:32px;line-height:32px;color:#0a0a0a;left:547.6px;width:600px;text-align:center;-webkit-text-stroke:1.1px #0a0a0a;">7</span>
<span class="t" style="top:1321.3px;font-size:32px;line-height:32px;color:#0a0a0a;left:582.4px;width:600px;text-align:center;-webkit-text-stroke:1.1px #0a0a0a;">1</span>
<span class="t" style="top:1321.3px;font-size:32px;line-height:32px;color:#0a0a0a;left:601px;width:600px;text-align:center;-webkit-text-stroke:1.1px #0a0a0a;">8</span>
<svg class="s" style="left:0px;top:1310px" width="1024" height="52" viewBox="0 0 1024 52"><path d="M200 42.300L212.4 13.500H216.3L203.9 42.300z" fill="#0a0a0a"/><path d="M253.4 42.300L265.8 13.500H269.7L257.3 42.300z" fill="#0a0a0a"/><path d="M416.3 42.300L428.7 13.500H432.6L420.2 42.300z" fill="#0a0a0a"/><path d="M469.7 42.300L482.1 13.500H486L473.6 42.300z" fill="#0a0a0a"/><path d="M632.6 42.300L645 13.500H648.9L636.5 42.300z" fill="#0a0a0a"/><path d="M686 42.300L698.4 13.500H702.3L689.9 42.300z" fill="#0a0a0a"/><path d="M857.1 42.300L869.5 13.500H873.4L861 42.300z" fill="#0a0a0a"/></svg>
<div class="b" style="left:969px;top:1311px;width:1.3px;height:50.5px;background:#e0e0e0;"></div>
<svg class="s" style="left:982px;top:1316px" width="26" height="40" viewBox="0 0 26 40"><path fill="#a9a9a9" d="M13 2L23.200 16.200H2.800zM13 37.200L23.200 23.200H2.800z"/></svg>
<div class="b" style="left:866px;top:1362.5px;width:156px;height:234.5px;background:#fbfbfb;"></div>
<svg class="s" style="left:0px;top:1362px" width="870" height="235" viewBox="0 0 870 235"><path d="M0 65.8H866" stroke="#e2e2e2" stroke-width="1.300" stroke-dasharray="8 7" fill="none"/><path d="M0 106.4H866" stroke="#e2e2e2" stroke-width="1.300" stroke-dasharray="8 7" fill="none"/><path d="M0 147H866" stroke="#e2e2e2" stroke-width="1.300" stroke-dasharray="8 7" fill="none"/><path d="M0 187.7H866" stroke="#e2e2e2" stroke-width="1.300" stroke-dasharray="8 7" fill="none"/><path d="M216.3 0V235" stroke="#e2e2e2" stroke-width="1.300" stroke-dasharray="9 7" fill="none"/><path d="M432.6 0V235" stroke="#e2e2e2" stroke-width="1.300" stroke-dasharray="9 7" fill="none"/><path d="M649 0V235" stroke="#e2e2e2" stroke-width="1.300" stroke-dasharray="9 7" fill="none"/><rect x="1.3" y="80.5" width="8.6" height="147.8" fill="#e8190c"/><rect x="12.5" y="65.8" width="8.6" height="162.5" fill="#e8190c"/><rect x="23.8" y="202.9" width="8.6" height="25.4" fill="#1a5fd0"/><rect x="35" y="222.7" width="8.6" height="5.6" fill="#1a5fd0"/><rect x="46.2" y="224" width="8.6" height="4.3" fill="#1a5fd0"/><rect x="57.5" y="212.5" width="8.6" height="15.8" fill="#e8190c"/><rect x="68.7" y="223.2" width="8.6" height="5.1" fill="#1a5fd0"/><rect x="80" y="225.8" width="8.6" height="2.5" fill="#1a5fd0"/><rect x="91.2" y="226.5" width="8.6" height="1.8" fill="#1a5fd0"/><rect x="102.4" y="222" width="8.6" height="6.3" fill="#e8190c"/><rect x="113.7" y="226.5" width="8.6" height="1.8" fill="#e8190c"/><rect x="124.9" y="226.8" width="8.6" height="1.5" fill="#e8190c"/><rect x="136.1" y="226.1" width="8.6" height="2.2" fill="#1a5fd0"/><rect x="147.4" y="227.1" width="8.6" height="1.2" fill="#e8190c"/><rect x="158.6" y="227.1" width="8.6" height="1.2" fill="#1a5fd0"/><rect x="169.9" y="227.1" width="8.6" height="1.2" fill="#e8190c"/><rect x="181.1" y="226.5" width="8.6" height="1.8" fill="#e8190c"/><rect x="192.3" y="227.1" width="8.6" height="1.2" fill="#1a5fd0"/><rect x="203.6" y="226.8" width="8.6" height="1.5" fill="#e8190c"/><rect x="214.8" y="227.1" width="8.6" height="1.2" fill="#1a5fd0"/><rect x="226" y="227.1" width="8.6" height="1.2" fill="#1a5fd0"/><rect x="237.3" y="226.1" width="8.6" height="2.2" fill="#1a5fd0"/><rect x="248.5" y="226.1" width="8.6" height="2.2" fill="#1a5fd0"/><rect x="259.8" y="227.1" width="8.6" height="1.2" fill="#e8190c"/><rect x="271" y="226.8" width="8.6" height="1.5" fill="#1a5fd0"/><rect x="282.2" y="227.1" width="8.6" height="1.2" fill="#e8190c"/><rect x="293.5" y="226.1" width="8.6" height="2.2" fill="#e8190c"/><rect x="304.7" y="227.1" width="8.6" height="1.2" fill="#1a5fd0"/><rect x="315.9" y="227.1" width="8.6" height="1.2" fill="#1a5fd0"/><rect x="327.2" y="226.8" width="8.6" height="1.5" fill="#1a5fd0"/><rect x="338.4" y="227.1" width="8.6" height="1.2" fill="#e8190c"/><rect x="349.6" y="226.1" width="8.6" height="2.2" fill="#e8190c"/><rect x="360.9" y="227.1" width="8.6" height="1.2" fill="#1a5fd0"/><rect x="372.1" y="226.8" width="8.6" height="1.5" fill="#1a5fd0"/><rect x="383.4" y="227.1" width="8.6" height="1.2" fill="#1a5fd0"/><rect x="394.6" y="226.8" width="8.6" height="1.5" fill="#1a5fd0"/><rect x="405.8" y="226.5" width="8.6" height="1.8" fill="#1a5fd0"/><rect x="417.1" y="226.1" width="8.6" height="2.2" fill="#1a5fd0"/><rect x="428.3" y="226.8" width="8.6" height="1.5" fill="#1a5fd0"/><rect x="439.5" y="227.1" width="8.6" height="1.2" fill="#1a5fd0"/><rect x="450.8" y="226.5" width="8.6" height="1.8" fill="#1a5fd0"/><rect x="462" y="226.8" width="8.6" height="1.5" fill="#1a5fd0"/><rect x="473.3" y="227.1" width="8.6" height="1.2" fill="#e8190c"/><rect x="484.5" y="226.8" width="8.6" height="1.5" fill="#1a5fd0"/><rect x="495.7" y="226.5" width="8.6" height="1.8" fill="#1a5fd0"/><rect x="507" y="227.1" width="8.6" height="1.2" fill="#e8190c"/><rect x="518.2" y="227.1" width="8.6" height="1.2" fill="#1a5fd0"/><rect x="529.4" y="227.1" width="8.6" height="1.2" fill="#1a5fd0"/><rect x="540.7" y="227.1" width="8.6" height="1.2" fill="#e8190c"/><rect x="551.9" y="227.1" width="8.6" height="1.2" fill="#1a5fd0"/><rect x="563.2" y="227.1" width="8.6" height="1.2" fill="#e8190c"/><rect x="574.4" y="227.1" width="8.6" height="1.2" fill="#1a5fd0"/><rect x="585.6" y="227.1" width="8.6" height="1.2" fill="#e8190c"/><rect x="596.9" y="227.1" width="8.6" height="1.2" fill="#e8190c"/><rect x="608.1" y="227.1" width="8.6" height="1.2" fill="#1a5fd0"/><rect x="619.3" y="227.1" width="8.6" height="1.2" fill="#1a5fd0"/><rect x="630.6" y="227.1" width="8.6" height="1.2" fill="#e8190c"/><rect x="641.8" y="227.1" width="8.6" height="1.2" fill="#1a5fd0"/><rect x="653" y="227.1" width="8.6" height="1.2" fill="#e8190c"/><rect x="664.3" y="227.1" width="8.6" height="1.2" fill="#e8190c"/><rect x="675.5" y="227.1" width="8.6" height="1.2" fill="#1a5fd0"/><rect x="686.8" y="227.1" width="8.6" height="1.2" fill="#1a5fd0"/><rect x="698" y="227.1" width="8.6" height="1.2" fill="#1a5fd0"/><rect x="709.2" y="227.1" width="8.6" height="1.2" fill="#e8190c"/><rect x="720.5" y="227.1" width="8.6" height="1.2" fill="#e8190c"/><rect x="731.7" y="227.1" width="8.6" height="1.2" fill="#e8190c"/><rect x="742.9" y="227.1" width="8.6" height="1.2" fill="#1a5fd0"/><rect x="754.2" y="227.1" width="8.6" height="1.2" fill="#e8190c"/><rect x="765.4" y="227.1" width="8.6" height="1.2" fill="#e8190c"/><rect x="776.7" y="227.1" width="8.6" height="1.2" fill="#e8190c"/><rect x="787.9" y="227.1" width="8.6" height="1.2" fill="#1a5fd0"/><rect x="799.1" y="227.1" width="8.6" height="1.2" fill="#e8190c"/><rect x="810.4" y="227.1" width="8.6" height="1.2" fill="#1a5fd0"/><rect x="821.6" y="227.1" width="8.6" height="1.2" fill="#1a5fd0"/><rect x="832.8" y="227.1" width="8.6" height="1.2" fill="#1a5fd0"/><rect x="844.1" y="227.1" width="8.6" height="1.2" fill="#1a5fd0"/><rect x="855.3" y="227.1" width="8.6" height="1.2" fill="#e8190c"/><polyline points="5,200.4 12.7,177.5 21.6,163.5 33,159.7 50.8,158 62.2,186.4 73.6,215.6 83.8,219.4 106.7,221.4 119.4,224 152.4,225.8 177.8,227.3 260,226.5 860,227" fill="none" stroke="#d22ab0" stroke-width="2" stroke-linejoin="round" stroke-linecap="round"/><polyline points="5,220.7 9,216 15.2,211.8 33,210.5 63.5,208.7 217.1,207.5 236.2,222 260,224.5 400,226 860,226.5" fill="none" stroke="#eeb420" stroke-width="2" stroke-linejoin="round" stroke-linecap="round"/><polyline points="5,221.5 860,223.8" fill="none" stroke="#8a8a8a" stroke-width="1.5" stroke-linejoin="round" stroke-linecap="round"/><polyline points="5,220.7 680,221.6 692,224.8 860,225.3" fill="none" stroke="#2c8a52" stroke-width="2.3" stroke-linejoin="round" stroke-linecap="round"/></svg>
<div class="b" style="left:0px;top:1596.3px;width:866px;height:1.3px;background:#dfe3ee;"></div>
<span class="t k" style="left:14.2px;top:1383.5px;font-size:25.4px;line-height:23.5px;color:#3b9a9c;">거래량</span>
<span class="t k" style="left:99px;top:1383.5px;font-size:25.8px;line-height:23.5px;color:#d426b4;">단순</span>
<span class="t" style="top:1381px;font-size:27.5px;line-height:28px;color:#d426b4;left:158.3px;-webkit-text-stroke:0.8px #d426b4;">5</span>
<span class="t" style="top:1381px;font-size:27.5px;line-height:28px;color:#e9b820;left:182.5px;-webkit-text-stroke:0.8px #e9b820;">20</span>
<span class="t" style="top:1381px;font-size:27.5px;line-height:28px;color:#12913f;left:224.3px;letter-spacing:0.6px;-webkit-text-stroke:0.8px #12913f;">60</span>
<span class="t" style="top:1381px;font-size:27.5px;line-height:28px;color:#808080;left:268.5px;letter-spacing:-0.3px;-webkit-text-stroke:0.8px #808080;">120</span>
<div class="b" style="left:13.2px;top:1414.8px;width:64px;height:64px;background:rgba(236,236,236,0.32);border-radius:22px;"></div>
<svg class="s" style="left:25.2px;top:1426.8px" width="40" height="40" viewBox="0 0 40 40"><path d="M3 3.500L37 36.500M37 3.500L3 36.500" stroke="#9c9c9c" stroke-width="3.200" stroke-linecap="round"/></svg>
<div class="b" style="left:867px;top:1363.8px;width:35.5px;height:35.5px;background:#fff;border:1.2px solid #b4b4b4;"></div>
<div class="b" style="left:874.5px;top:1372.4px;width:19.7px;height:2.8px;background:#6c6c6c;border-radius:1px;"></div>
<div class="b" style="left:874.5px;top:1380.2px;width:19.7px;height:2.8px;background:#6c6c6c;border-radius:1px;"></div>
<div class="b" style="left:874.5px;top:1388px;width:19.7px;height:2.8px;background:#6c6c6c;border-radius:1px;"></div>
<span class="t" style="top:1414.2px;font-size:31px;line-height:31px;color:#0c0c0c;right:8.5px;letter-spacing:1.6px;margin-right:-1.6px;-webkit-text-stroke:1.1px #0c0c0c;">51,218K</span>
<span class="t" style="top:1495px;font-size:31px;line-height:31px;color:#0c0c0c;right:8.5px;letter-spacing:1.6px;margin-right:-1.6px;-webkit-text-stroke:1.1px #0c0c0c;">25,609K</span>
<span class="t" style="top:1562px;font-size:31px;line-height:31px;color:#0c0c0c;right:10.5px;-webkit-text-stroke:1.1px #0c0c0c;">0</span>
<div class="b" style="left:866px;top:1598px;width:156px;height:233px;background:#fbfbfb;"></div>
<div class="b" style="left:867px;top:1598px;width:35.5px;height:35.5px;background:#fff;border:1.2px solid #b4b4b4;"></div>
<div class="b" style="left:874.5px;top:1606.6px;width:19.7px;height:2.8px;background:#6c6c6c;border-radius:1px;"></div>
<div class="b" style="left:874.5px;top:1614.4px;width:19.7px;height:2.8px;background:#6c6c6c;border-radius:1px;"></div>
<div class="b" style="left:874.5px;top:1622.2px;width:19.7px;height:2.8px;background:#6c6c6c;border-radius:1px;"></div>
<svg class="s" style="left:860px;top:1566px" width="166" height="48" viewBox="0 0 166 48"><path d="M6 23.700L17.700 4.400H162V43H17.700z" fill="#3a9b98"/></svg>
<span class="t" style="top:1576px;font-size:32.5px;line-height:33px;color:#fff;right:9.5px;letter-spacing:0.8px;margin-right:-0.8px;-webkit-text-stroke:0.9px #fff;">148,032</span>
<svg class="s" style="left:0px;top:1598px" width="870" height="234" viewBox="0 0 870 234"><path d="M0 63.9H866" stroke="#e2e2e2" stroke-width="1.300" stroke-dasharray="8 7" fill="none"/><path d="M0 104.5H866" stroke="#e2e2e2" stroke-width="1.300" stroke-dasharray="8 7" fill="none"/><path d="M0 145.1H866" stroke="#e2e2e2" stroke-width="1.300" stroke-dasharray="8 7" fill="none"/><path d="M0 185.8H866" stroke="#e2e2e2" stroke-width="1.300" stroke-dasharray="8 7" fill="none"/><path d="M216.3 0V228" stroke="#e2e2e2" stroke-width="1.300" stroke-dasharray="9 7" fill="none"/><path d="M432.6 0V228" stroke="#e2e2e2" stroke-width="1.300" stroke-dasharray="9 7" fill="none"/><path d="M649 0V228" stroke="#e2e2e2" stroke-width="1.300" stroke-dasharray="9 7" fill="none"/><rect x="1.3" y="89.3" width="8.6" height="137.3" fill="#63639b"/><rect x="12.5" y="64.4" width="8.6" height="162.2" fill="#63639b"/><rect x="23.8" y="203.3" width="8.6" height="23.3" fill="#63639b"/><rect x="35" y="219.3" width="8.6" height="7.3" fill="#63639b"/><rect x="46.2" y="223" width="8.6" height="3.6" fill="#63639b"/><rect x="57.5" y="214.2" width="8.6" height="12.4" fill="#63639b"/><rect x="68.7" y="223" width="8.6" height="3.6" fill="#63639b"/><rect x="80" y="224.9" width="8.6" height="1.7" fill="#63639b"/><rect x="91.2" y="225" width="8.6" height="1.6" fill="#63639b"/><rect x="102.4" y="221" width="8.6" height="5.6" fill="#63639b"/><rect x="113.7" y="225.3" width="8.6" height="1.3" fill="#63639b" fill-opacity="0.45"/><rect x="124.9" y="225.3" width="8.6" height="1.3" fill="#63639b" fill-opacity="0.45"/><rect x="136.1" y="225.3" width="8.6" height="1.3" fill="#63639b" fill-opacity="0.45"/><rect x="147.4" y="225.3" width="8.6" height="1.3" fill="#63639b" fill-opacity="0.45"/><rect x="158.6" y="225.3" width="8.6" height="1.3" fill="#63639b" fill-opacity="0.45"/><rect x="169.9" y="225.3" width="8.6" height="1.3" fill="#63639b" fill-opacity="0.45"/><rect x="181.1" y="225.3" width="8.6" height="1.3" fill="#63639b" fill-opacity="0.45"/><rect x="192.3" y="225.3" width="8.6" height="1.3" fill="#63639b" fill-opacity="0.45"/><rect x="203.6" y="225.3" width="8.6" height="1.3" fill="#63639b" fill-opacity="0.45"/><rect x="214.8" y="225.3" width="8.6" height="1.3" fill="#63639b" fill-opacity="0.45"/><rect x="226" y="225.3" width="8.6" height="1.3" fill="#63639b" fill-opacity="0.45"/><rect x="237.3" y="225.3" width="8.6" height="1.3" fill="#63639b" fill-opacity="0.45"/><rect x="248.5" y="225.3" width="8.6" height="1.3" fill="#63639b" fill-opacity="0.45"/><rect x="259.8" y="225.3" width="8.6" height="1.3" fill="#63639b" fill-opacity="0.45"/><rect x="271" y="225.3" width="8.6" height="1.3" fill="#63639b" fill-opacity="0.45"/><rect x="282.2" y="225.3" width="8.6" height="1.3" fill="#63639b" fill-opacity="0.45"/><rect x="293.5" y="225.3" width="8.6" height="1.3" fill="#63639b" fill-opacity="0.45"/><rect x="304.7" y="225.3" width="8.6" height="1.3" fill="#63639b" fill-opacity="0.45"/><rect x="315.9" y="225.3" width="8.6" height="1.3" fill="#63639b" fill-opacity="0.45"/><rect x="327.2" y="225.3" width="8.6" height="1.3" fill="#63639b" fill-opacity="0.45"/><rect x="338.4" y="225.3" width="8.6" height="1.3" fill="#63639b" fill-opacity="0.45"/><rect x="349.6" y="225.3" width="8.6" height="1.3" fill="#63639b" fill-opacity="0.45"/><rect x="360.9" y="225.3" width="8.6" height="1.3" fill="#63639b" fill-opacity="0.45"/><rect x="372.1" y="225.3" width="8.6" height="1.3" fill="#63639b" fill-opacity="0.45"/><rect x="383.4" y="225.3" width="8.6" height="1.3" fill="#63639b" fill-opacity="0.45"/><rect x="394.6" y="225.3" width="8.6" height="1.3" fill="#63639b" fill-opacity="0.45"/><rect x="405.8" y="225.3" width="8.6" height="1.3" fill="#63639b" fill-opacity="0.45"/><rect x="417.1" y="225.3" width="8.6" height="1.3" fill="#63639b" fill-opacity="0.45"/><rect x="428.3" y="225.3" width="8.6" height="1.3" fill="#63639b" fill-opacity="0.45"/><rect x="439.5" y="225.3" width="8.6" height="1.3" fill="#63639b" fill-opacity="0.45"/><rect x="450.8" y="225.3" width="8.6" height="1.3" fill="#63639b" fill-opacity="0.45"/><rect x="462" y="225.3" width="8.6" height="1.3" fill="#63639b" fill-opacity="0.45"/><rect x="473.3" y="225.3" width="8.6" height="1.3" fill="#63639b" fill-opacity="0.45"/><rect x="484.5" y="225.3" width="8.6" height="1.3" fill="#63639b" fill-opacity="0.45"/><rect x="495.7" y="225.3" width="8.6" height="1.3" fill="#63639b" fill-opacity="0.45"/><rect x="507" y="225.3" width="8.6" height="1.3" fill="#63639b" fill-opacity="0.45"/><rect x="518.2" y="225.3" width="8.6" height="1.3" fill="#63639b" fill-opacity="0.45"/><rect x="529.4" y="225.3" width="8.6" height="1.3" fill="#63639b" fill-opacity="0.45"/><rect x="540.7" y="225.3" width="8.6" height="1.3" fill="#63639b" fill-opacity="0.45"/><rect x="551.9" y="225.3" width="8.6" height="1.3" fill="#63639b" fill-opacity="0.45"/><rect x="563.2" y="225.3" width="8.6" height="1.3" fill="#63639b" fill-opacity="0.45"/><rect x="574.4" y="225.3" width="8.6" height="1.3" fill="#63639b" fill-opacity="0.45"/><rect x="585.6" y="225.3" width="8.6" height="1.3" fill="#63639b" fill-opacity="0.45"/><rect x="596.9" y="225.3" width="8.6" height="1.3" fill="#63639b" fill-opacity="0.45"/><rect x="608.1" y="225.3" width="8.6" height="1.3" fill="#63639b" fill-opacity="0.45"/><rect x="619.3" y="225.3" width="8.6" height="1.3" fill="#63639b" fill-opacity="0.45"/><rect x="630.6" y="225.3" width="8.6" height="1.3" fill="#63639b" fill-opacity="0.45"/><rect x="641.8" y="225.3" width="8.6" height="1.3" fill="#63639b" fill-opacity="0.45"/><rect x="653" y="225.3" width="8.6" height="1.3" fill="#63639b" fill-opacity="0.45"/><rect x="664.3" y="225.3" width="8.6" height="1.3" fill="#63639b" fill-opacity="0.45"/><rect x="675.5" y="225.3" width="8.6" height="1.3" fill="#63639b" fill-opacity="0.45"/><rect x="686.8" y="225.3" width="8.6" height="1.3" fill="#63639b" fill-opacity="0.45"/><rect x="698" y="225.3" width="8.6" height="1.3" fill="#63639b" fill-opacity="0.45"/><rect x="709.2" y="225.3" width="8.6" height="1.3" fill="#63639b" fill-opacity="0.45"/><rect x="720.5" y="225.3" width="8.6" height="1.3" fill="#63639b" fill-opacity="0.45"/><rect x="731.7" y="225.3" width="8.6" height="1.3" fill="#63639b" fill-opacity="0.45"/><rect x="742.9" y="225.3" width="8.6" height="1.3" fill="#63639b" fill-opacity="0.45"/><rect x="754.2" y="225.3" width="8.6" height="1.3" fill="#63639b" fill-opacity="0.45"/><rect x="765.4" y="225.3" width="8.6" height="1.3" fill="#63639b" fill-opacity="0.45"/><rect x="776.7" y="225.3" width="8.6" height="1.3" fill="#63639b" fill-opacity="0.45"/><rect x="787.9" y="225.3" width="8.6" height="1.3" fill="#63639b" fill-opacity="0.45"/><rect x="799.1" y="225.3" width="8.6" height="1.3" fill="#63639b" fill-opacity="0.45"/><rect x="810.4" y="225.3" width="8.6" height="1.3" fill="#63639b" fill-opacity="0.45"/><rect x="821.6" y="225.3" width="8.6" height="1.3" fill="#63639b" fill-opacity="0.45"/><rect x="832.8" y="225.3" width="8.6" height="1.3" fill="#63639b" fill-opacity="0.45"/><rect x="844.1" y="225.3" width="8.6" height="1.3" fill="#63639b" fill-opacity="0.45"/><rect x="855.3" y="225.3" width="8.6" height="1.3" fill="#63639b" fill-opacity="0.45"/></svg>
<span class="t k" style="left:14.7px;top:1619.2px;font-size:26.5px;line-height:24.6px;color:#5b5b90;">거래대금</span>
<div class="b" style="left:13.2px;top:1649.4px;width:64px;height:64px;background:rgba(236,236,236,0.32);border-radius:22px;"></div>
<svg class="s" style="left:25.2px;top:1661.4px" width="40" height="40" viewBox="0 0 40 40"><path d="M3 3.500L37 36.500M37 3.500L3 36.500" stroke="#9c9c9c" stroke-width="3.200" stroke-linecap="round"/></svg>
<span class="t" style="top:1648.5px;font-size:31px;line-height:31px;color:#0c0c0c;right:11.5px;letter-spacing:1.3px;margin-right:-1.3px;-webkit-text-stroke:1.1px #0c0c0c;">246,691</span>
<span class="t" style="top:1730.2px;font-size:31px;line-height:31px;color:#0c0c0c;right:9.3px;letter-spacing:1.3px;margin-right:-1.3px;-webkit-text-stroke:1.1px #0c0c0c;">123,346</span>
<div class="b" style="left:865.7px;top:1792.2px;width:156.3px;height:38.8px;background:#66669d;"></div>
<span class="t" style="top:1797.5px;font-size:31.5px;line-height:32px;color:#fff;right:9px;letter-spacing:1.2px;margin-right:-1.2px;-webkit-text-stroke:0.8px #fff;">513</span>
<div class="b" style="left:0px;top:1830.5px;width:1024px;height:81px;background:#ececec;"></div>
<div class="b" style="left:0px;top:1830.5px;width:866px;height:1.2px;background:#d6d6d6;"></div>
<div class="b" style="left:0px;top:1910.3px;width:1024px;height:1.4px;background:#cfcfcf;"></div>
<span class="t k" style="left:22.5px;top:1855px;font-size:32.8px;line-height:30px;color:#333;">코스피</span>
<span class="t" style="top:1854.5px;font-size:32.5px;line-height:33px;color:#2457d6;left:398px;letter-spacing:1.2px;-webkit-text-stroke:0.5px #2457d6;">3,188.07</span>
<svg class="s" style="left:615px;top:1861px" width="24" height="20" viewBox="0 0 24 20"><path d="M2.500 3H21.800L12.200 16.500z" fill="#2457d6"/></svg>
<span class="t" style="top:1854.5px;font-size:32.5px;line-height:33px;color:#2457d6;left:656px;letter-spacing:1.2px;-webkit-text-stroke:0.5px #2457d6;">4.22</span>
<span class="t" style="top:1855px;font-size:32.5px;line-height:33px;color:#2457d6;right:23.5px;letter-spacing:1.2px;margin-right:-1.2px;-webkit-text-stroke:0.5px #2457d6;">0.13%</span>
<div class="b" style="left:17.5px;top:1929px;width:135px;height:135px;background:#b8386c;border-radius:11px;"></div>
<div class="b" style="left:56.5px;top:1958px;width:56.5px;height:4px;background:#fff;border-radius:2px;"></div>
<div class="b" style="left:56.5px;top:1976.5px;width:56.5px;height:4px;background:#fff;border-radius:2px;"></div>
<div class="b" style="left:56.5px;top:1994.5px;width:56.5px;height:4px;background:#fff;border-radius:2px;"></div>
<span class="t k" style="left:56.5px;top:2012.5px;font-size:25.4px;line-height:23.5px;color:#fff;font-weight:700;">메</span>
<span class="t k" style="left:89px;top:2012.5px;font-size:26.6px;line-height:23.5px;color:#fff;font-weight:700;">뉴</span>
<span class="t k" style="left:226.7px;top:1982.6px;font-size:35.7px;line-height:32.8px;color:#9b9b9b;">내맘대로</span>
<span class="t" style="top:1980.8px;font-size:36px;line-height:36px;color:#9b9b9b;left:361px;-webkit-text-stroke:0.5px #9b9b9b;">1</span>
<span class="t k" style="left:456.4px;top:1982.6px;font-size:35.7px;line-height:32.8px;color:#9b9b9b;">내맘대로</span>
<span class="t" style="top:1980.8px;font-size:36px;line-height:36px;color:#9b9b9b;left:589.2px;-webkit-text-stroke:0.5px #9b9b9b;">2</span>
<span class="t k" style="left:681.3px;top:1982px;font-size:36.9px;line-height:34.2px;color:#333;font-weight:700;">내맘대로</span>
<span class="t" style="top:1981px;font-size:36px;line-height:36px;color:#333;left:821.2px;font-weight:700;">3</span>
<span class="t k" style="left:913.1px;top:1982.6px;font-size:35.7px;line-height:32.8px;color:#9b9b9b;">내맘대</span>
<div class="b" style="left:0px;top:2081px;width:1024px;height:137px;background:#f6f6f6;"></div>
<div class="b" style="left:201.4px;top:2131px;width:3.2px;height:42.5px;background:#7f7f7f;border-radius:1.6px;"></div>
<div class="b" style="left:220.1px;top:2131px;width:3.2px;height:42.5px;background:#7f7f7f;border-radius:1.6px;"></div>
<div class="b" style="left:238.9px;top:2131px;width:3.2px;height:42.5px;background:#7f7f7f;border-radius:1.6px;"></div>
<div class="b" style="left:485.5px;top:2129.5px;width:45.7px;height:44px;border:3.2px solid #7f7f7f;border-radius:14px;"></div>
<svg class="s" style="left:776px;top:2124px" width="40" height="56" viewBox="0 0 40 56"><path d="M31 6.500L8.500 27.500L31 48.500" fill="none" stroke="#7f7f7f" stroke-width="3.200" stroke-linecap="round" stroke-linejoin="round"/></svg>
<svg id="ko" width="1024" height="2218" viewBox="0 0 1024 2218">
<defs><linearGradient id="fd1" x1="0" x2="1"><stop offset="0" stop-color="#32316b" stop-opacity="0"/><stop offset="1" stop-color="#32316b"/></linearGradient></defs><rect x="906" y="125" width="30" height="52" fill="url(#fd1)"/><rect x="936" y="125" width="16" height="52" fill="#32316b"/>
<defs><linearGradient id="fd2" x1="0" x2="1"><stop offset="0" stop-color="#fff" stop-opacity="0"/><stop offset="1" stop-color="#fff"/></linearGradient></defs><rect x="992" y="1975" width="24" height="50" fill="url(#fd2)"/></svg>
</div></body></html>
